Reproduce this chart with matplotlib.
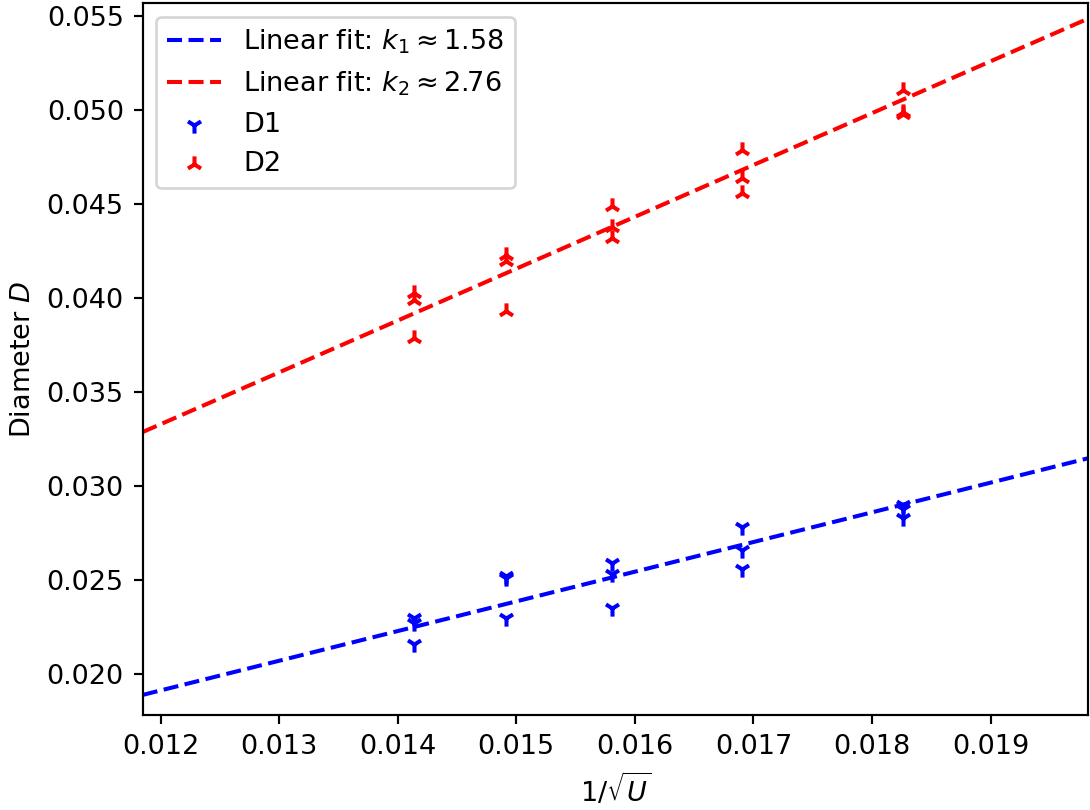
import numpy as np
from matplotlib import pyplot as plt

# 1/sqrt(U) for U = 5000, 4500, 4000, 3500, 3000 V
x_vals = [0.01414, 0.01491, 0.01581, 0.01690, 0.01826]

d1 = [
    [0.0230, 0.0227, 0.0216],
    [0.0252, 0.0251, 0.0230],
    [0.0259, 0.0253, 0.0235],
    [0.0278, 0.0266, 0.0256],
    [0.0290, 0.0288, 0.0283],
]
d2 = [
    [0.0403, 0.0399, 0.0379],
    [0.0423, 0.0420, 0.0393],
    [0.0449, 0.0438, 0.0432],
    [0.0479, 0.0464, 0.0456],
    [0.0511, 0.0499, 0.0498],
]

k1, b1 = 1.58, 0.00016
k2, b2 = 2.76, 0.00017

xlim = (0.01185, 0.01982)
ylim = (0.0178, 0.0557)

x1 = np.repeat(x_vals, [len(v) for v in d1])
y1 = np.concatenate(d1)
x2 = np.repeat(x_vals, [len(v) for v in d2])
y2 = np.concatenate(d2)

dpi = 195
fig = plt.figure(figsize=(1090 / dpi, 810 / dpi), dpi=dpi)
fig.subplots_adjust(left=0.131, right=0.998, top=0.996, bottom=0.117)

xx = np.linspace(xlim[0], xlim[1], 100)
plt.plot(xx, k1 * xx + b1, "--", color="b", label=r"Linear fit: $k_1 \approx 1.58$")
plt.plot(xx, k2 * xx + b2, "--", color="r", label=r"Linear fit: $k_2 \approx 2.76$")
plt.scatter(x1, y1, marker="1", color="b", label="D1")
plt.scatter(x2, y2, marker="2", color="r", label="D2")

plt.xlim(*xlim)
plt.ylim(*ylim)
plt.xlabel(r"$1/\sqrt{U}$")
plt.ylabel(r"Diameter $D$")
plt.legend(loc="upper left")
plt.savefig("out.png", dpi=dpi)
